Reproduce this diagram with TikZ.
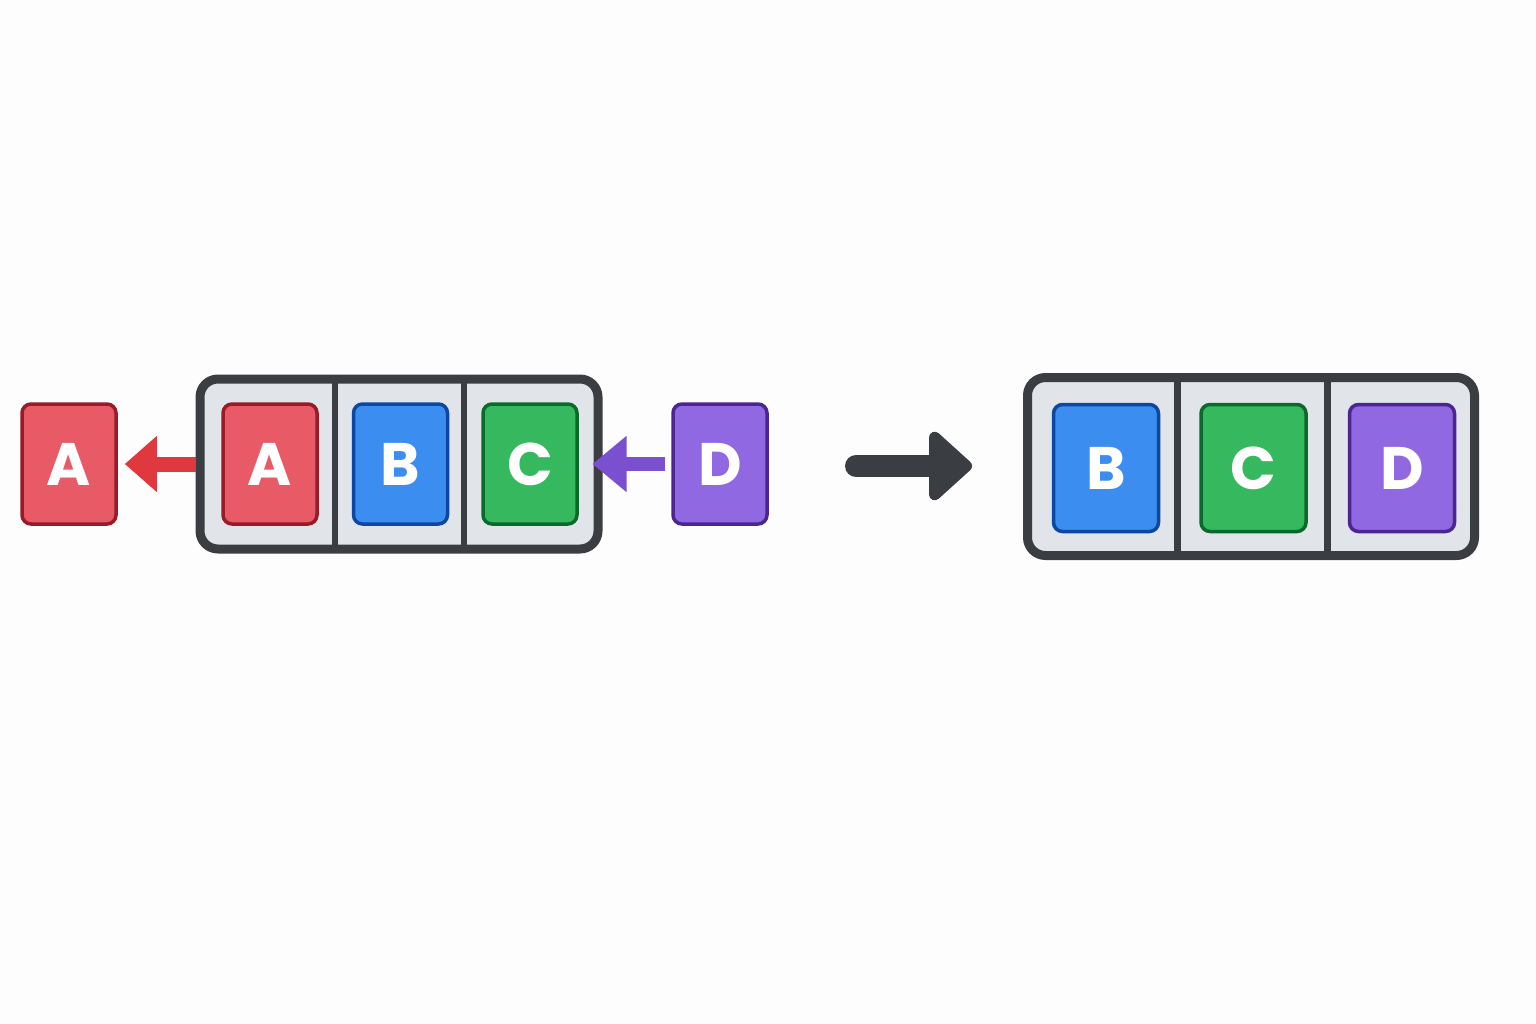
\documentclass[tikz,border=0pt]{standalone}
\usepackage{fontspec}
\setmainfont{Poppins}
\usetikzlibrary{arrows.meta}
\usetikzlibrary{positioning}

\definecolor{paper}{HTML}{FDFDFD}
\definecolor{qborder}{HTML}{3A3D41}
\definecolor{qfill}{HTML}{E1E4E8}
\definecolor{redfill}{HTML}{E85A66}
\definecolor{redline}{HTML}{981B26}
\definecolor{bluefill}{HTML}{3B8EF0}
\definecolor{blueline}{HTML}{0D47A1}
\definecolor{greenfill}{HTML}{36B85F}
\definecolor{greenline}{HTML}{0B6A2B}
\definecolor{purplefill}{HTML}{8F68E2}
\definecolor{purpleline}{HTML}{4B2590}
\definecolor{redarrow}{HTML}{E0383F}
\definecolor{purplearrow}{HTML}{7B50D0}

\begin{document}
\begin{tikzpicture}[line join=round,x=1pt,y=-1pt,
  queue/.style={draw=qborder,fill=qfill,line width=9pt,rounded corners=18pt,inner sep=0pt},
  divider/.style={draw=qborder,line width=7pt,shorten <=3pt,shorten >=3pt},
  cell/.style={rounded corners=9pt,line width=3.5pt,inner sep=0pt,text=white,font=\fontsize{60}{60}\selectfont\bfseries},
  small/.style={minimum width=94pt,minimum height=120pt},
  big/.style={minimum width=105pt,minimum height=127pt},
  red/.style={fill=redfill,draw=redline},
  blue/.style={fill=bluefill,draw=blueline},
  green/.style={fill=greenfill,draw=greenline},
  purple/.style={fill=purplefill,draw=purpleline}]
\fill[paper] (0,0) rectangle (1536,1024);
\useasboundingbox (0,0) rectangle (1536,1024);
% queue before
\node[queue,minimum width=398pt,minimum height=170pt] (qleft) at (399,464) {};
\draw[divider,line width=6pt] (335,0 |- qleft.north) -- (335,0 |- qleft.south);
\draw[divider,line width=6pt] (464,0 |- qleft.north) -- (464,0 |- qleft.south);
\node[cell,small,red] (la) at (270,464) {A};
\node[cell,small,blue,right=33pt of la] (lb) {B};
\node[cell,small,green,right=32pt of lb] (lc) {C};
\node[cell,small,red] (outa) at (69,464) {A};
\node[cell,small,purple] (ind) at (720,464) {D};
\draw[redarrow,line width=15pt,-{Triangle[length=32pt,width=54pt]}] (qleft.west) -- ([xshift=7pt]outa.east);
\draw[purplearrow,line width=14pt,-{Triangle[length=34pt,width=54pt]}] ([xshift=-6pt]ind.west) -- ([xshift=-10pt]qleft.east);
% step
\coordinate (go) at (856,466);
\coordinate (stop) at (972,466);
\draw[qborder,line width=22pt,line cap=round,-{Triangle[length=46pt,width=80pt,round]}] (go) -- (stop);
% queue after
\node[queue,minimum width=447pt,minimum height=178pt] (qright) at (1251,466.5) {};
\draw[divider] (1177,0 |- qright.north) -- (1177,0 |- qright.south);
\draw[divider] (1327,0 |- qright.north) -- (1327,0 |- qright.south);
\node[cell,big,blue] (rb) at (1106,468) {B};
\node[cell,big,green,right=39pt of rb] (rc) {C};
\node[cell,big,purple,right=40pt of rc] (rd) {D};
\end{tikzpicture}
\end{document}
